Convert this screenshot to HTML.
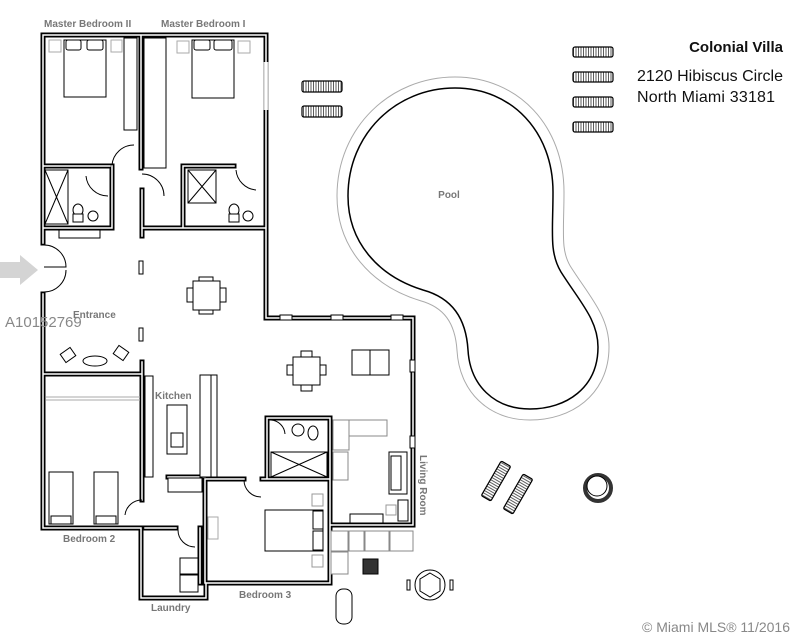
<!DOCTYPE html>
<html><head><meta charset="utf-8"><style>
html,body{margin:0;padding:0;background:#fff;}
svg{display:block;}
text{font-family:"Liberation Sans",sans-serif;}
</style></head><body>
<svg width="800" height="637" viewBox="0 0 800 637" xmlns="http://www.w3.org/2000/svg">
<defs>
<pattern id="str" width="2.5" height="4" patternUnits="userSpaceOnUse"><rect width="2.5" height="4" fill="#fff"/><line x1="1" y1="0" x2="1" y2="4" stroke="#333" stroke-width="0.8"/></pattern>
</defs>

<!-- pool -->
<g fill="none">
<path d="M455,88 C512,88 553,132 553,192 C553,232 549,252 561,272 C580,302 598,320 598,347 C598,388 566,409 530,409 C494,409 470,385 468,350 C466,318 452,298 423,290 C378,276 348,242 348,196 C348,134 396,88 455,88 Z" stroke="#aaa" stroke-width="23"/>
<path d="M455,88 C512,88 553,132 553,192 C553,232 549,252 561,272 C580,302 598,320 598,347 C598,388 566,409 530,409 C494,409 470,385 468,350 C466,318 452,298 423,290 C378,276 348,242 348,196 C348,134 396,88 455,88 Z" stroke="#fff" stroke-width="21"/>
<path d="M455,88 C512,88 553,132 553,192 C553,232 549,252 561,272 C580,302 598,320 598,347 C598,388 566,409 530,409 C494,409 470,385 468,350 C466,318 452,298 423,290 C378,276 348,242 348,196 C348,134 396,88 455,88 Z" fill="#fff" stroke="#000" stroke-width="1.5"/>
</g>
<text x="449" y="198" font-size="10" fill="#777" font-weight="bold" text-anchor="middle">Pool</text>

<!-- loungers -->
<g stroke="#000" stroke-width="1.2" fill="url(#str)">
<rect x="573" y="47" width="40" height="10" rx="2"/>
<rect x="573" y="72" width="40" height="10" rx="2"/>
<rect x="573" y="97" width="40" height="10" rx="2"/>
<rect x="573" y="122" width="40" height="10" rx="2"/>
<rect x="302" y="81" width="40" height="11" rx="2"/>
<rect x="302" y="106" width="40" height="11" rx="2"/>
<g transform="translate(496,481) rotate(-60)"><rect x="-20" y="-5.5" width="40" height="11" rx="1.5"/></g>
<g transform="translate(518,494) rotate(-60)"><rect x="-20" y="-5.5" width="40" height="11" rx="1.5"/></g>
</g>
<circle cx="598" cy="488" r="13" fill="none" stroke="#333" stroke-width="4"/>
<circle cx="597" cy="486" r="10" fill="#fff" stroke="#000" stroke-width="1"/>

<!-- title -->
<text x="783" y="52" font-size="15" font-weight="bold" text-anchor="end" fill="#111">Colonial Villa</text>
<text x="637" y="81" font-size="16" fill="#111" textLength="146">2120 Hibiscus Circle</text>
<text x="637" y="102" font-size="16" fill="#111" textLength="138">North Miami 33181</text>

<!-- arrow -->
<polygon points="0,262 20,262 20,255 38,270 20,285 20,278 0,278" fill="#d4d4d4"/>

<!-- walls -->
<g fill="none" stroke-linecap="square">
<path d="M43,35 H266 M43,35 V243 M43,294 V528 H141 M141,528 V598 H206 V583 H330 V479 M266,35 V318 H413 V525 H330 M141,35 V168 M43,166 H110 M112,166 V228 M43,228 H112 M142,228 H266 M142,190 V236 M183,166 V228 M183,166 H234 M142,362 V500 M43,374 H142 M205,479 V583 M205,479 H244 M262,479 H330 M267,418 V479 M267,418 H330 M330,418 V479 M168,477 H205 M145,528 H176 M200,528 V583" stroke="#000" stroke-width="5"/>
<path d="M43,35 H266 M43,35 V243 M43,294 V528 H141 M141,528 V598 H206 V583 H330 V479 M266,35 V318 H413 V525 H330 M141,35 V168 M43,166 H110 M112,166 V228 M43,228 H112 M142,228 H266 M142,190 V236 M183,166 V228 M183,166 H234 M142,362 V500 M43,374 H142 M205,479 V583 M205,479 H244 M262,479 H330 M267,418 V479 M267,418 H330 M330,418 V479 M168,477 H205 M145,528 H176 M200,528 V583" stroke="#fff" stroke-width="1.5"/>
</g>
<line x1="266" y1="62" x2="266" y2="110" stroke="#fff" stroke-width="4"/>
<line x1="264" y1="62" x2="264" y2="110" stroke="#aaa" stroke-width="0.8"/>
<line x1="268" y1="62" x2="268" y2="110" stroke="#aaa" stroke-width="0.8"/>
<g fill="#fff" stroke="#000" stroke-width="1">
<rect x="280" y="315" width="12" height="5"/><rect x="331" y="315" width="12" height="5"/><rect x="391" y="315" width="12" height="5"/>
<rect x="410" y="360" width="5" height="12"/><rect x="410" y="436" width="5" height="12"/>
</g>

<!-- doors -->
<g fill="none" stroke="#000" stroke-width="1">
<path d="M44,245 A22,22 0 0 1 66,267 H44"/>
<path d="M44,292 A22,22 0 0 0 66,270"/>
<path d="M112,165 A22,22 0 0 1 134,145"/>
<path d="M86,176 A22,22 0 0 0 108,196"/>
<path d="M142,174 A22,22 0 0 1 164,196"/>
<path d="M236,170 A22,22 0 0 0 256,190"/>
<path d="M125,515 A17,17 0 0 1 142,500"/>
<path d="M178,530 A17,17 0 0 0 195,547"/>
<path d="M244,480 A17,17 0 0 0 261,497"/>
<path d="M271,420 A15,15 0 0 1 285,434"/>
</g>

<!-- furniture -->
<g fill="#fff" stroke="#000" stroke-width="1">
<rect x="49" y="40" width="12" height="12" stroke="#aaa"/><rect x="111" y="40" width="11" height="12" stroke="#aaa"/>
<rect x="177" y="41" width="12" height="12" stroke="#aaa"/><rect x="238" y="41" width="12" height="12" stroke="#aaa"/>
<rect x="124" y="38" width="13" height="92"/>
<rect x="64" y="40" width="42" height="57"/>
<rect x="66" y="40" width="15" height="10" rx="2"/><rect x="87" y="40" width="16" height="10" rx="2"/>
<rect x="144" y="38" width="22" height="130"/>
<rect x="192" y="40" width="42" height="58"/>
<rect x="194" y="40" width="16" height="10" rx="2"/><rect x="214" y="40" width="18" height="10" rx="2"/>
<rect x="45" y="170" width="23" height="54"/><path d="M45,170 L68,224 M68,170 L45,224"/>
<rect x="188" y="170" width="28" height="33"/><path d="M188,170 L216,203 M216,170 L188,203"/>
<rect x="59" y="230" width="41" height="8"/>
<ellipse cx="78" cy="210" rx="5" ry="6"/><rect x="73" y="214" width="10" height="8"/>
<circle cx="93" cy="216" r="5"/>
<ellipse cx="234" cy="210" rx="5" ry="6"/><rect x="229" y="214" width="10" height="8"/>
<circle cx="248" cy="216" r="5"/>
<rect x="139" y="261" width="4" height="13"/>
<rect x="139" y="328" width="4" height="13"/>
<rect x="193" y="281" width="27" height="29"/>
<rect x="199" y="277" width="14" height="4"/><rect x="199" y="310" width="14" height="4"/>
<rect x="187" y="288" width="6" height="14"/><rect x="220" y="288" width="6" height="14"/>
<ellipse cx="95" cy="361" rx="12" ry="5"/>
<rect x="62" y="350" width="12" height="10" transform="rotate(-35 68 355)"/>
<rect x="115" y="348" width="12" height="10" transform="rotate(35 121 353)"/>
<line x1="46" y1="397" x2="140" y2="397" stroke="#aaa"/><line x1="46" y1="400" x2="140" y2="400" stroke="#aaa"/>
<rect x="49" y="472" width="24" height="52"/><rect x="51" y="516" width="20" height="8"/>
<rect x="94" y="472" width="24" height="52"/><rect x="96" y="516" width="20" height="8"/>
<rect x="145" y="376" width="8" height="101"/>
<rect x="167" y="405" width="20" height="49"/>
<rect x="171" y="433" width="12" height="14"/>
<rect x="200" y="375" width="17" height="102"/><line x1="211" y1="375" x2="211" y2="477"/>
<rect x="168" y="478" width="34" height="14"/>
<rect x="180" y="558" width="18" height="16"/><rect x="180" y="575" width="18" height="17"/>
<rect x="208" y="517" width="10" height="22" stroke="#aaa"/>
<rect x="265" y="510" width="58" height="41"/>
<rect x="313" y="511" width="10" height="18"/><rect x="313" y="531" width="10" height="19"/>
<rect x="312" y="494" width="11" height="12" stroke="#999"/><rect x="312" y="555" width="11" height="12" stroke="#999"/>
<rect x="271" y="452" width="56" height="25"/><path d="M271,452 L327,477 M327,452 L271,477"/>
<circle cx="298" cy="430" r="6"/><ellipse cx="313" cy="433" rx="5" ry="7"/>
<rect x="293" y="357" width="27" height="28"/>
<rect x="301" y="351" width="11" height="6"/><rect x="301" y="385" width="11" height="6"/>
<rect x="287" y="365" width="6" height="10"/><rect x="320" y="365" width="6" height="10"/>
<rect x="352" y="350" width="37" height="25"/><line x1="370" y1="350" x2="370" y2="375"/>
<rect x="333" y="420" width="16" height="30" stroke="#888"/><rect x="349" y="420" width="38" height="16" stroke="#888"/>
<rect x="333" y="452" width="15" height="28" stroke="#888"/>
<rect x="389" y="452" width="18" height="42"/><rect x="391" y="456" width="10" height="34"/>
<rect x="398" y="500" width="10" height="21"/><rect x="386" y="505" width="10" height="10" stroke="#999"/>
<rect x="350" y="514" width="33" height="9"/>
<rect x="331" y="531" width="17" height="20" stroke="#888"/><rect x="349" y="531" width="15" height="20" stroke="#888"/>
<rect x="365" y="531" width="24" height="20" stroke="#888"/><rect x="390" y="531" width="23" height="20" stroke="#888"/>
<rect x="331" y="552" width="17" height="22" stroke="#888"/>
<rect x="363" y="559" width="15" height="15" fill="#333"/>
<rect x="336" y="589" width="16" height="35" rx="7"/>
<circle cx="430" cy="585" r="15"/>
<polygon points="430,573 440,579 440,591 430,597 420,591 420,579"/>
<rect x="407" y="580" width="3" height="10"/><rect x="450" y="580" width="3" height="10"/>
</g>

<g fill="#777" font-size="10" font-weight="bold">
<text x="44" y="27">Master Bedroom II</text>
<text x="161" y="27">Master Bedroom I</text>
<text x="73" y="318">Entrance</text>
<text x="155" y="399">Kitchen</text>
<text x="63" y="542">Bedroom 2</text>
<text x="151" y="611">Laundry</text>
<text x="239" y="598">Bedroom 3</text>
<text transform="translate(420,455) rotate(90)">Living Room</text>
</g>
<text x="5" y="327" font-size="15" fill="#888">A10152769</text>
<text x="790" y="632" font-size="14" fill="#888" text-anchor="end">© Miami MLS® 11/2016</text>
</svg>
</body></html>
